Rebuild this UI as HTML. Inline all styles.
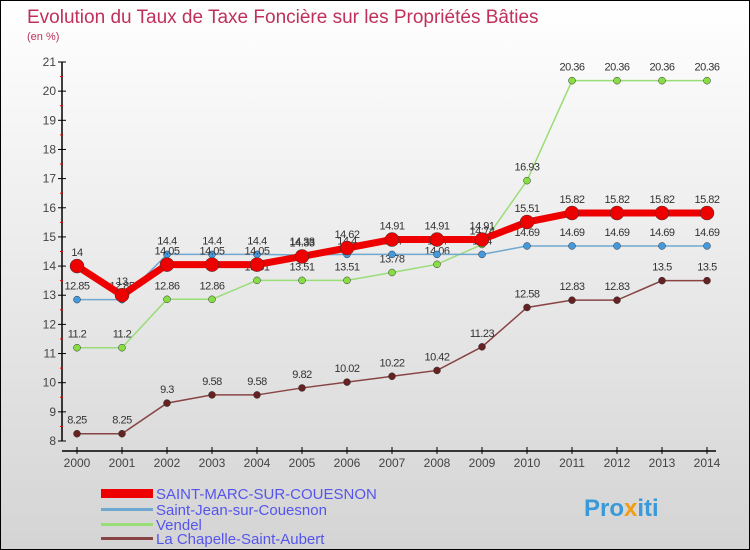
<!DOCTYPE html>
<html><head><meta charset="utf-8"><style>
body{margin:0}
#c{width:748px;height:548px;border:1px solid #000;background:linear-gradient(#fff,#d4d4d4);position:relative;font-family:"Liberation Sans",sans-serif;overflow:hidden}
</style></head><body>
<div id="c">
<svg width="748" height="548" id="s">
<text x="26" y="22" font-size="19" fill="#c0305a">Evolution du Taux de Taxe Foncière sur les Propriétés Bâties</text>
<text x="26" y="39" font-size="11" fill="#c0305a">(en %)</text>
<g id="g"></g>
<g font-size="15" fill="#5555ee">
<rect x="100" y="488" width="52" height="9" fill="#e00"/>
<text x="155" y="498">SAINT-MARC-SUR-COUESNON</text>
<rect x="100" y="507" width="52" height="3" fill="#6fa8d0"/>
<text x="155" y="514">Saint-Jean-sur-Couesnon</text>
<rect x="100" y="522" width="52" height="3" fill="#99dd77"/>
<text x="155" y="529">Vendel</text>
<rect x="100" y="536" width="52" height="3" fill="#884444"/>
<text x="155" y="543">La Chapelle-Saint-Aubert</text>
</g>
<text x="583" y="515" font-size="24" font-weight="bold" fill="#3a9ad9">Pro<tspan fill="#f39c12">x</tspan>iti</text>
</svg>
</div>
<script>
const years=[2000,2001,2002,2003,2004,2005,2006,2007,2008,2009,2010,2011,2012,2013,2014];
const yTicks=[8,9,10,11,12,13,14,15,16,17,18,19,20,21];
const saintMarc=[14,13,14.05,14.05,14.05,14.33,14.62,14.91,14.91,14.91,15.51,15.82,15.82,15.82,15.82];
const saintJean=[12.85,12.85,14.4,14.4,14.4,14.38,14.4,14.4,14.4,14.4,14.69,14.69,14.69,14.69,14.69];
const vendel=[11.2,11.2,12.86,12.86,13.51,13.51,13.51,13.78,14.06,14.74,16.93,20.36,20.36,20.36,20.36];
const chapelle=[8.25,8.25,9.3,9.58,9.58,9.82,10.02,10.22,10.42,11.23,12.58,12.83,12.83,13.5,13.5];
const NS="http://www.w3.org/2000/svg",g=document.getElementById('g');
const X=i=>76+i*45, Y=v=>440-(v-8)*(379/13);
function mk(t,a){const e=document.createElementNS(NS,t);for(const k in a)e.setAttribute(k,a[k]);g.appendChild(e);return e;}
let ax=mk('line',{x1:61,y1:61,x2:61,y2:440,stroke:'#000','stroke-width':1.5});


ax=mk('line',{x1:61,y1:450,x2:715,y2:450,stroke:'#000','stroke-width':1.5});


yTicks.forEach(v=>{mk('line',{x1:57,y1:Y(v),x2:65,y2:Y(v),stroke:'#000'});
if(v<21)mk('line',{x1:59,y1:Y(v+0.5),x2:62,y2:Y(v+0.5),stroke:'#e00'});
const t=mk('text',{x:55,y:Y(v)+4,'font-size':12,fill:'#444','text-anchor':'end'});t.textContent=v;

});
years.forEach((yr,i)=>{mk('line',{x1:X(i),y1:446,x2:X(i),y2:453,stroke:'#000'});
const t=mk('text',{x:X(i),y:466,'font-size':12,fill:'#444','text-anchor':'middle'});t.textContent=yr;

});
function series(d,col,w,r,dot,name){
const p=mk('polyline',{points:d.map((v,i)=>X(i)+','+Y(v)).join(' '),fill:'none',stroke:col,'stroke-width':w});


d.forEach((v,i)=>{const c=mk('circle',{cx:X(i),cy:Y(v),r:r,fill:dot,stroke:'#333','stroke-width':0.5});


const t=mk('text',{x:X(i),y:Y(v)-10,'font-size':11,fill:'#333','text-anchor':'middle','letter-spacing':'-0.5'});t.textContent=v;

});}
series(chapelle,'#884444',1.5,3.5,'#662222','la-chapelle');
series(vendel,'#99dd77',1.5,3.5,'#88dd44','vendel');
series(saintJean,'#6fa8d0',1.5,3.5,'#4499dd','saint-jean');
series(saintMarc,'#e00',7,7,'#e00','saint-marc');
</script>
</body></html>
